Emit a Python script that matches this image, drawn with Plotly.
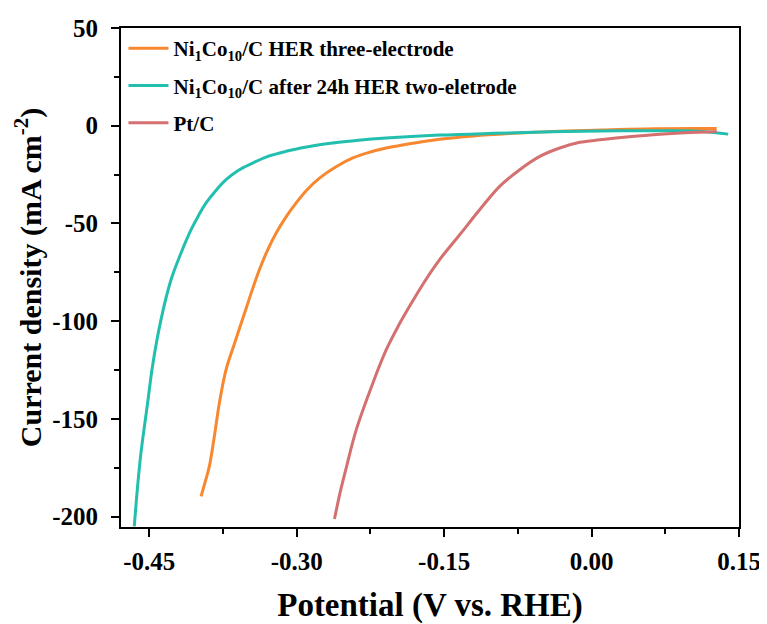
import plotly.graph_objects as go

# Data
ni_three_x = [-0.3973, -0.3930, -0.3889, -0.3838, -0.3787, -0.3719, -0.3634, -0.3515, -0.3450, -0.3380,
              -0.3300, -0.3209, -0.3110, -0.3006, -0.2890, -0.2768, -0.2600, -0.2429, -0.2260, -0.2089,
              -0.1800, -0.1546, -0.1200, -0.0800, -0.0392, 0.0100, 0.0627, 0.1273]
ni_three_y = [-189.6, -182.0, -174.3, -158.9, -141.8, -124.8, -111.5, -93.5, -83.6, -73.7,
              -64.0, -54.9, -46.8, -39.5, -32.5, -26.8, -21.0, -16.5, -13.6, -11.4,
              -8.8, -6.9, -5.2, -3.9, -2.9, -2.2, -1.5, -1.4]

ni_two_x = [-0.4653, -0.4620, -0.4585, -0.4517, -0.4466, -0.4381, -0.4279, -0.4177, -0.4075, -0.4000,
            -0.3922, -0.3820, -0.3719, -0.3600, -0.3448, -0.3300, -0.3108, -0.2900, -0.2680, -0.2400,
            -0.2089, -0.1546, -0.1000, -0.0400, 0.0288, 0.0800, 0.1136, 0.1390]
ni_two_y = [-205.0, -185.0, -167.4, -141.8, -122.5, -99.2, -78.8, -65.1, -53.2, -46.0,
            -39.5, -33.0, -27.6, -23.0, -19.1, -15.8, -13.1, -10.9, -9.1, -7.6,
            -6.3, -4.8, -3.9, -3.1, -2.6, -2.6, -2.9, -4.3]

ptc_x = [-0.2616, -0.2560, -0.2496, -0.2394, -0.2225, -0.2089, -0.1970, -0.1852, -0.1700, -0.1546,
         -0.1342, -0.1139, -0.0935, -0.0731, -0.0527, -0.0324, -0.0120, 0.0084, 0.0356, 0.0627,
         0.0950, 0.1273]
ptc_y = [-201.2, -188.0, -175.0, -155.5, -131.6, -114.6, -102.8, -92.4, -79.8, -68.5,
         -55.8, -43.0, -31.0, -22.5, -15.7, -11.4, -8.5, -7.2, -5.8, -4.6,
         -3.6, -2.9]

series_names = ["Ni<sub>1</sub>Co<sub>10</sub>/C HER three-electrode",
                "Ni<sub>1</sub>Co<sub>10</sub>/C after 24h HER two-eletrode",
                "Pt/C"]
series_colors = ["#F7882F", "#22BFAE", "#D4706F"]

x_ticks = [-0.45, -0.30, -0.15, 0.00, 0.15]
x_tick_labels = ["-0.45", "-0.30", "-0.15", "0.00", "0.15"]
y_ticks = [50, 0, -50, -100, -150, -200]
y_tick_labels = ["50", "0", "-50", "-100", "-150", "-200"]

FONT = "Liberation Serif"

fig = go.Figure()
for i, (xs, ys) in enumerate([(ni_three_x, ni_three_y), (ni_two_x, ni_two_y), (ptc_x, ptc_y)]):
    fig.add_trace(go.Scatter(
        x=xs, y=ys, mode="lines", name=series_names[i], legendgroup=f"g{i}",
        line=dict(color=series_colors[i], width=3, shape="spline", smoothing=1.0),
    ))

axis_common = dict(
    showline=True, linecolor="black", linewidth=2, mirror=True,
    ticks="outside", ticklen=8, tickwidth=1.5, tickcolor="black",
    showgrid=False, zeroline=False, automargin=False,
    tickfont=dict(family=FONT, size=25, color="black", weight="bold"),
)

# page body has an 8px margin: figure is sized/offset to fit the 767x624 window
fig.update_layout(
    width=759, height=616,
    margin=dict(l=113, r=28, t=20, b=97),
    paper_bgcolor="white", plot_bgcolor="white",
    showlegend=True,
    legend=dict(x=0.004, y=1.0, xanchor="left", yanchor="top",
                bgcolor="rgba(0,0,0,0)", borderwidth=0,
                font=dict(family=FONT, size=21, color="black", weight="bold"),
                tracegroupgap=7, itemwidth=40),
    xaxis=dict(
        range=[-0.4788, 0.15], tickvals=x_ticks, ticktext=x_tick_labels,
        ticklabelstandoff=3,
        minor=dict(dtick=0.075, tick0=0, ticks="outside", ticklen=5, tickwidth=1.5, tickcolor="black"),
        title=dict(text="Potential (V vs. RHE)", standoff=22,
                   font=dict(family=FONT, size=33, color="black", weight="bold")),
        **axis_common,
    ),
    yaxis=dict(
        range=[-205.3, 50], tickvals=y_ticks, ticktext=y_tick_labels,
        ticklabelstandoff=8,
        minor=dict(dtick=25, tick0=0, ticks="outside", ticklen=5, tickwidth=1.5, tickcolor="black"),
        title=dict(text="Current density (mA cm<sup>-2</sup>)", standoff=2,
                   font=dict(family=FONT, size=30, color="black", weight="bold")),
        **axis_common,
    ),
)

fig.write_html("out.html")
